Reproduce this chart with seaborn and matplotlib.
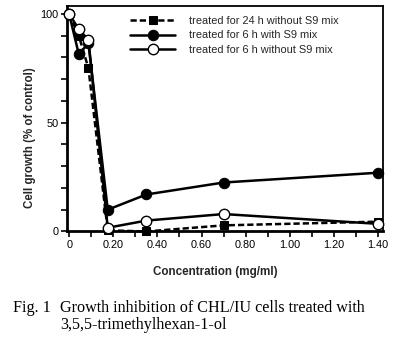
import matplotlib
matplotlib.use("Agg")
import matplotlib.pyplot as plt
import seaborn as sns
import numpy as np
from matplotlib.ticker import MultipleLocator

sns.set_theme(style="ticks")
plt.rcParams['font.family'] = ['Liberation Sans', 'DejaVu Sans']

conc = [0, 0.04375, 0.0875, 0.175, 0.35, 0.70, 1.40]
h24_noS9 = [100, 90, 75, 0.5, 0, 2.8, 4.5]
h6_S9 = [100, 81.5, 86.5, 10, 17, 22.5, 27]
h6_noS9 = [100, 93, 88, 1.7, 5, 8, 3.5]
labels = ["treated for 24 h without S9 mix",
          "treated for 6 h with S9 mix",
          "treated for 6 h without S9 mix"]

fig = plt.figure(figsize=(3.96, 3.47), dpi=100)
ax = fig.add_axes([0.169, 0.333, 0.798, 0.650])

lw = 1.8
sns.lineplot(x=conc, y=h24_noS9, ax=ax, color="black", lw=lw, marker="s", ms=6,
             mfc="black", mec="black", label=labels[0], zorder=3)
ax.lines[-1].set_dashes([2.5, 1.2])
sns.lineplot(x=conc, y=h6_S9, ax=ax, color="black", lw=lw, marker="o", ms=7.5,
             mfc="black", mec="black", label=labels[1], zorder=4)
sns.lineplot(x=conc, y=h6_noS9, ax=ax, color="black", lw=lw, marker="o", ms=7.5,
             mfc="white", mec="black", mew=1.0, label=labels[2], zorder=5)
for ln in ax.lines:
    ln.set_clip_on(False)

ax.set_xlim(-0.01, 1.422)
ax.set_ylim(0, 103.7)
ax.xaxis.set_major_locator(MultipleLocator(0.2))
ax.xaxis.set_minor_locator(MultipleLocator(0.1))
ax.yaxis.set_major_locator(MultipleLocator(50))
ax.yaxis.set_minor_locator(MultipleLocator(10))
ax.set_xticks([0, 0.2, 0.4, 0.6, 0.8, 1.0, 1.2, 1.4])
ax.set_xticklabels(["0", "0.20", "0.40", "0.60", "0.80", "1.00", "1.20", "1.40"])
ax.tick_params(which="both", direction="out", length=4, width=1.2, labelsize=7.8, pad=2,
               color="black", labelcolor="black")
for s in ax.spines.values():
    s.set_visible(True)
    s.set_linewidth(1.3)
    s.set_color("black")
ax.spines["left"].set_linewidth(2)
ax.spines["bottom"].set_linewidth(2)

ax.set_xlabel("Concentration (mg/ml)", fontsize=8.4, fontweight="bold")
ax.set_ylabel("Cell growth (% of control)", fontsize=8.3, fontweight="bold")
ax.xaxis.set_label_coords(0.468, -0.153)
ax.yaxis.set_label_coords(-0.098, 0.415)

leg = ax.legend(loc="upper left", bbox_to_anchor=(0.2, 0.955), frameon=False, fontsize=7.9,
                handlelength=4.1, handletextpad=1.3, labelspacing=0.4, borderpad=0,
                borderaxespad=0)

serif = ["Liberation Serif", "DejaVu Serif"]
fig.text(0.033, 0.101, "Fig. 1", fontsize=11.6, family=serif, color="black")
fig.text(0.152, 0.101, "Growth inhibition of CHL/IU cells treated with",
         fontsize=11.6, family=serif, color="black")
fig.text(0.152, 0.052, "3,5,5-trimethylhexan-1-ol",
         fontsize=11.6, family=serif, color="black")

fig.savefig("out.png", dpi=100)
